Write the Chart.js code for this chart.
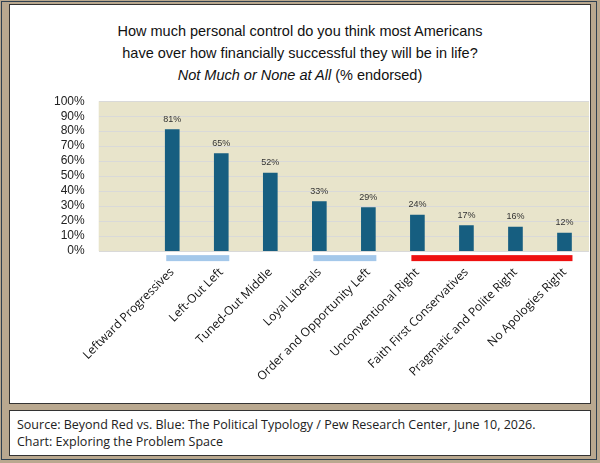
<!DOCTYPE html>
<html><head><meta charset="utf-8">
<script src="https://cdn.jsdelivr.net/npm/chart.js@4"></script>
<style>
body{margin:0;width:600px;height:463px;background:#b9a88f;font-family:"Liberation Sans",Arial,sans-serif;position:relative;overflow:hidden}
#outer{position:absolute;left:1px;top:1px;width:596px;height:459px;border:1px solid #2f4050;box-sizing:border-box}
#panel{position:absolute;left:9px;top:4px;width:582px;height:400px;background:#fff;border:1px solid #333;box-sizing:border-box}
#foot{position:absolute;left:9px;top:410px;width:582px;height:46px;background:#fff;border:1px solid #333;box-sizing:border-box;font-family:"Open Sans",sans-serif;font-size:12.5px;line-height:17px;padding:5px 0 0 7px;color:#222}
#title{position:absolute;left:0;top:20px;width:600px;text-align:center;font-size:14.5px;line-height:22px;color:#111}
#c{position:absolute;left:40px;top:80px}
</style></head><body>
<div id="outer"></div>
<div id="panel"></div>
<div id="foot">Source: Beyond Red vs. Blue: The Political Typology / Pew Research Center, June 10, 2026.<br>Chart: Exploring the Problem Space</div>
<div id="title">How much personal control do you think most Americans<br>have over how financially successful they will be in life?<br><i>Not Much or None at All</i> (% endorsed)</div>
<canvas id="c" width="555" height="310"></canvas>
<script>
const categories=["","Leftward Progressives","Left-Out Left","Tuned-Out Middle","Loyal Liberals","Order and Opportunity Left","Unconventional Right","Faith First Conservatives","Pragmatic and Polite Right","No Apologies Right"];
const values=[null,81,65,52,33,29,24,17,16,12];
const yTicks=[0,10,20,30,40,50,60,70,80,90,100];
const groups=[{from:1,to:2,color:"#a4c8ea"},{from:4,to:5,color:"#a4c8ea"},{from:6,to:9,color:"#ee1111"}];
const extras={id:"extras",
beforeDraw(ch){const a=ch.chartArea,c=ch.ctx;c.save();c.fillStyle="#e8e4cb";c.fillRect(a.left,a.top,a.right-a.left,a.bottom-a.top);c.restore();},
afterDatasetsDraw(ch){const c=ch.ctx,x=ch.scales.x,y=ch.scales.y,m=ch.getDatasetMeta(0);c.save();
c.font="9px 'Liberation Sans',Arial";c.fillStyle="#333";c.textAlign="center";
values.forEach((v,i)=>{if(v==null)return;c.fillText(v+"%",m.data[i].x,y.getPixelForValue(v)-8);});
groups.forEach(g=>{c.fillStyle=g.color;const x1=x.getPixelForValue(g.from)-6,x2=x.getPixelForValue(g.to)+8;c.fillRect(x1,y.bottom+4,x2-x1,6);});
c.restore();}};
new Chart(document.getElementById("c"),{type:"bar",
data:{labels:categories,datasets:[{data:values,backgroundColor:"#165e80",barThickness:14}]},
options:{responsive:false,animation:false,layout:{padding:{right:6,top:6}},
plugins:{legend:{display:false},tooltip:{enabled:false}},
scales:{
y:{min:0,max:100,afterBuildTicks(s){s.ticks=yTicks.map(v=>({value:v}));},
ticks:{autoSkip:false,callback:v=>v+"%",color:"#222",font:{size:12,family:"'Liberation Sans',Arial"},padding:14},
grid:{color:"#d9d9d9",drawTicks:false},border:{display:false}},
x:{grid:{display:false},border:{display:false},
ticks:{autoSkip:false,maxRotation:45,minRotation:45,color:"#111",font:{size:12,family:"'Open Sans',sans-serif"},padding:6}}}},
plugins:[extras]});
</script></body></html>
